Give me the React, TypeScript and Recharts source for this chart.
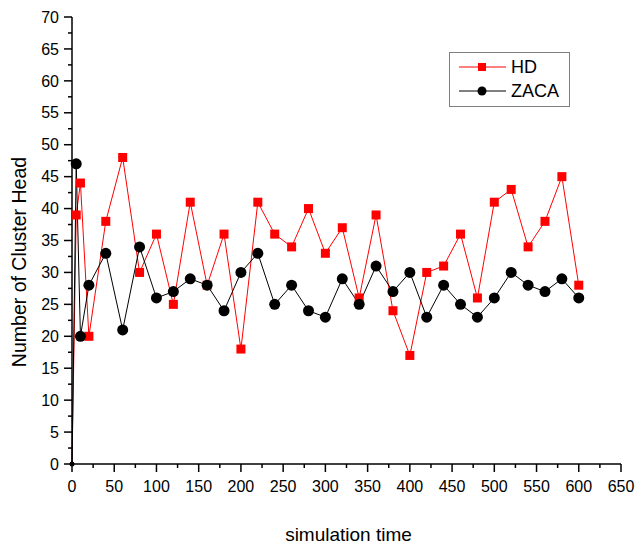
import React from "react";
import { LineChart, Line, XAxis, YAxis, Legend } from "recharts";

const times = [0, 5, 10, 20, 40, 60, 80, 100, 120, 140, 160, 180, 200, 220, 240, 260, 280, 300, 320, 340, 360, 380, 400, 420, 440, 460, 480, 500, 520, 540, 560, 580, 600];
const hdValues = [0, 39, 44, 20, 38, 48, 30, 36, 25, 41, 28, 36, 18, 41, 36, 34, 40, 33, 37, 26, 39, 24, 17, 30, 31, 36, 26, 41, 43, 34, 38, 45, 28];
const zacaValues = [0, 47, 20, 28, 33, 21, 34, 26, 27, 29, 28, 24, 30, 33, 25, 28, 24, 23, 29, 25, 31, 27, 30, 23, 28, 25, 23, 26, 30, 28, 27, 29, 26];

const xTicks = Array.from({ length: 27 }, (_, i) => i * 25);
const yTicks = Array.from({ length: 29 }, (_, i) => i * 2.5);

const font = "'Liberation Sans', Arial, sans-serif";
const TICK = 8;
const MARGIN = 4;

const data = times.map((t, i) => ({ t, hd: hdValues[i], zaca: zacaValues[i] }));

function XTick(props: any) {
  const { x, y, payload } = props;
  const axisY = y - TICK - MARGIN;
  const major = payload.value % 50 === 0;
  return (
    <g>
      <line x1={x} x2={x} y1={axisY} y2={axisY + (major ? 8 : 4)} stroke="#000" strokeWidth={1.5} />
      {major && (
        <text x={x} y={axisY + 17} dy="0.71em" textAnchor="middle" fontSize={16} fontFamily={font} fill="#000">
          {payload.value}
        </text>
      )}
    </g>
  );
}

function YTick(props: any) {
  const { x, y, payload } = props;
  const axisX = x + TICK + MARGIN;
  const major = payload.value % 5 === 0;
  return (
    <g>
      <line x1={axisX} x2={axisX - (major ? 8 : 4)} y1={y} y2={y} stroke="#000" strokeWidth={1.5} />
      {major && (
        <text x={axisX - 13} y={y} dy="0.355em" textAnchor="end" fontSize={16} fontFamily={font} fill="#000">
          {payload.value}
        </text>
      )}
    </g>
  );
}

// the origin point is mostly hidden under the axes in the original
function SquareDot(props: any) {
  const { cx, cy, index } = props;
  if (cx == null || cy == null) return <g key={index} />;
  const s = index === 0 ? 3 : 9;
  return <rect key={index} x={cx - s / 2} y={cy - s / 2} width={s} height={s} fill="#ff0000" />;
}

function CircleDot(props: any) {
  const { cx, cy, index } = props;
  if (cx == null || cy == null) return <g key={index} />;
  return <circle key={index} cx={cx} cy={cy} r={index === 0 ? 2.5 : 5.5} fill="#000" />;
}

function LegendBox() {
  const row = (label: string, color: string, square: boolean) => (
    <div style={{ display: "flex", alignItems: "center", height: 24 }}>
      <svg width={52} height={14} style={{ marginLeft: 9 }}>
        <line x1={0} x2={47} y1={7} y2={7} stroke={color} strokeWidth={1} />
        {square ? (
          <rect x={19} y={3} width={8} height={8} fill={color} />
        ) : (
          <circle cx={23} cy={7} r={4.5} fill={color} />
        )}
      </svg>
      <span style={{ fontSize: 18, fontFamily: font, color: "#000", lineHeight: 1 }}>{label}</span>
    </div>
  );
  return (
    <div style={{ border: "1px solid #7f7f7f", width: 119, height: 51, boxSizing: "content-box", paddingTop: 2 }}>
      {row("HD", "#ff0000", true)}
      {row("ZACA", "#000000", false)}
    </div>
  );
}

export default function App() {
  return (
    <div style={{ position: "absolute", left: 0, top: 0, width: 635, height: 548, background: "#fff" }}>
      <LineChart width={635} height={548} data={data} margin={{ top: 17, right: 14, bottom: 0, left: 0 }}>
        <XAxis
          dataKey="t"
          type="number"
          domain={[0, 650]}
          ticks={xTicks}
          interval={0}
          height={84}
          tickSize={TICK}
          tickMargin={MARGIN}
          tickLine={false}
          tick={<XTick />}
          axisLine={{ stroke: "#000", strokeWidth: 1.5 }}
          label={{
            content: (p: any) => {
              const vb = p.viewBox;
              return (
                <text x={vb.x + vb.width / 2 + 2} y={vb.y + 77} textAnchor="middle" fontSize={19} fontFamily={font} fill="#000">
                  simulation time
                </text>
              );
            },
          }}
        />
        <YAxis
          type="number"
          domain={[0, 70]}
          ticks={yTicks}
          interval={0}
          width={72}
          tickSize={TICK}
          tickMargin={MARGIN}
          tickLine={false}
          tick={<YTick />}
          axisLine={{ stroke: "#000", strokeWidth: 1.5 }}
          label={{
            content: (p: any) => {
              const vb = p.viewBox;
              const cx = vb.x + 26;
              const cy = 262;
              return (
                <text x={cx} y={cy} textAnchor="middle" transform={`rotate(-90 ${cx} ${cy})`} fontSize={19.5} fontFamily={font} fill="#000">
                  Number of Cluster Head
                </text>
              );
            },
          }}
        />
        <Legend
          layout="vertical"
          align="center"
          verticalAlign="middle"
          content={() => <LegendBox />}
          wrapperStyle={{ left: 449, top: 52, width: 121, height: 53 }}
        />
        <Line
          dataKey="hd"
          name="HD"
          stroke="#ff0000"
          strokeWidth={1}
          dot={<SquareDot />}
          activeDot={false}
          isAnimationActive={false}
        />
        <Line
          dataKey="zaca"
          name="ZACA"
          stroke="#000000"
          strokeWidth={1}
          dot={<CircleDot />}
          activeDot={false}
          isAnimationActive={false}
        />
      </LineChart>
    </div>
  );
}
